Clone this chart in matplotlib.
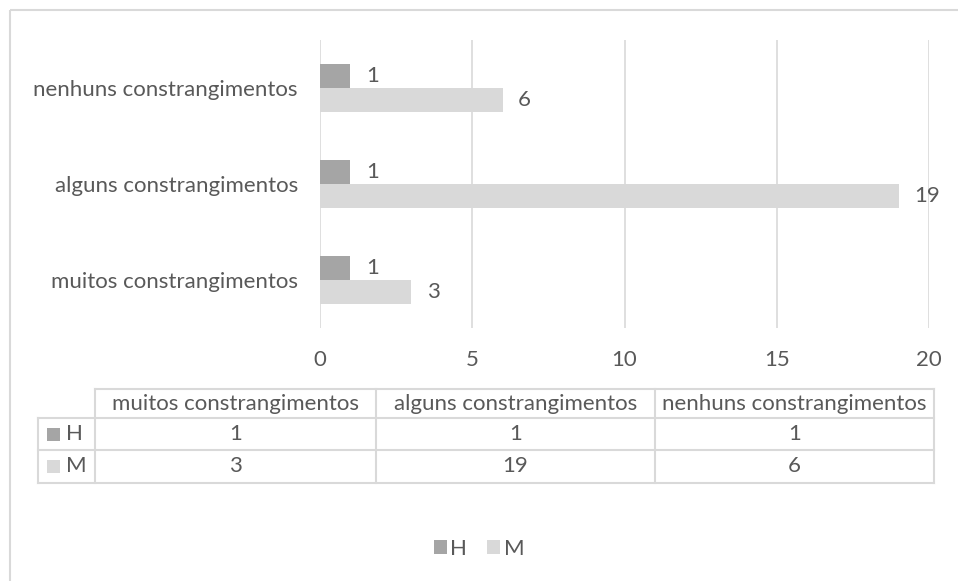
import matplotlib.pyplot as plt
from matplotlib.patches import Rectangle

categories = ['muitos constrangimentos', 'alguns constrangimentos', 'nenhuns constrangimentos']
series_names = ['H', 'M']
h_values = [1, 1, 1]
m_values = [3, 19, 6]

text_col = '#595959'
grid_col = '#D9D9D9'
colors = {'H': '#A5A5A5', 'M': '#D9D9D9'}
fs = 16

plt.rcParams['font.family'] = ['Lato', 'DejaVu Sans']
plt.rcParams['font.size'] = fs

W, H = 958, 581
fig = plt.figure(figsize=(W / 100, H / 100), dpi=100)

# overlay axes in pixel coordinates for the frame and data table
over = fig.add_axes([0, 0, 1, 1], zorder=0)
over.set_xlim(0, W)
over.set_ylim(H, 0)
over.axis('off')
over.add_patch(Rectangle((10, 10), W, H, fill=False, ec=grid_col, lw=1.5))

# main bar chart
left, right, top, bottom = 320, 929, 40, 328
ax = fig.add_axes([left / W, 1 - bottom / H, (right - left) / W, (bottom - top) / H], zorder=1)
ax.patch.set_alpha(0)
ypos = list(range(len(categories)))
bh = 0.25
bars_h = ax.barh([y + bh / 2 for y in ypos], h_values, height=bh, color=colors['H'], label='H')
bars_m = ax.barh([y - bh / 2 for y in ypos], m_values, height=bh, color=colors['M'], label='M')
for bars, vals in ((bars_h, h_values), (bars_m, m_values)):
    for b, v in zip(bars, vals):
        ax.annotate(str(v), (b.get_width(), b.get_y() + b.get_height() / 2),
                    xytext=(11, 0), textcoords='offset points',
                    va='center', ha='left', color=text_col, fontsize=fs)

ax.set_xlim(0, 20)
ax.set_ylim(-0.5, 2.5)
ax.set_xticks([0, 5, 10, 15, 20])
ax.set_yticks(ypos)
ax.set_yticklabels(categories)
ax.xaxis.grid(True, color=grid_col, lw=1.2)
ax.set_axisbelow(True)
for s in ax.spines.values():
    s.set_visible(False)
ax.tick_params(axis='both', length=0, colors=text_col, labelsize=fs)
ax.tick_params(axis='x', pad=16)
ax.tick_params(axis='y', pad=16)

# data table under the chart
cols = [38, 95, 376, 655, 934]
rows = [389, 418, 450, 483]
lw = 1.5
over.plot([cols[1], cols[-1]], [rows[0], rows[0]], color=grid_col, lw=lw)
for r in rows[1:]:
    over.plot([cols[0], cols[-1]], [r, r], color=grid_col, lw=lw)
over.plot([cols[0], cols[0]], [rows[1], rows[-1]], color=grid_col, lw=lw)
for c in cols[1:]:
    over.plot([c, c], [rows[0], rows[-1]], color=grid_col, lw=lw)

for i, cat in enumerate(categories):
    cx = (cols[i + 1] + cols[i + 2]) / 2
    over.text(cx, (rows[0] + rows[1]) / 2, cat, ha='center', va='center', color=text_col, fontsize=fs)
    for j, vals in enumerate((h_values, m_values)):
        over.text(cx, (rows[j + 1] + rows[j + 2]) / 2, str(vals[i]), ha='center', va='center',
                  color=text_col, fontsize=fs)
for j, name in enumerate(series_names):
    yc = (rows[j + 1] + rows[j + 2]) / 2
    over.add_patch(Rectangle((47, yc - 6.5), 13, 13, color=colors[name], lw=0))
    over.text(66, yc, name, ha='left', va='center', color=text_col, fontsize=fs)

# legend
fig.legend(handles=[bars_h, bars_m], labels=series_names, loc='center',
           bbox_to_anchor=(0.5, 1 - 549 / H), ncol=2, frameon=False,
           handlelength=0.6, handleheight=0.6, handletextpad=0.15, columnspacing=0.9,
           labelcolor=text_col, fontsize=fs)

fig.savefig('out.png', dpi=100)
